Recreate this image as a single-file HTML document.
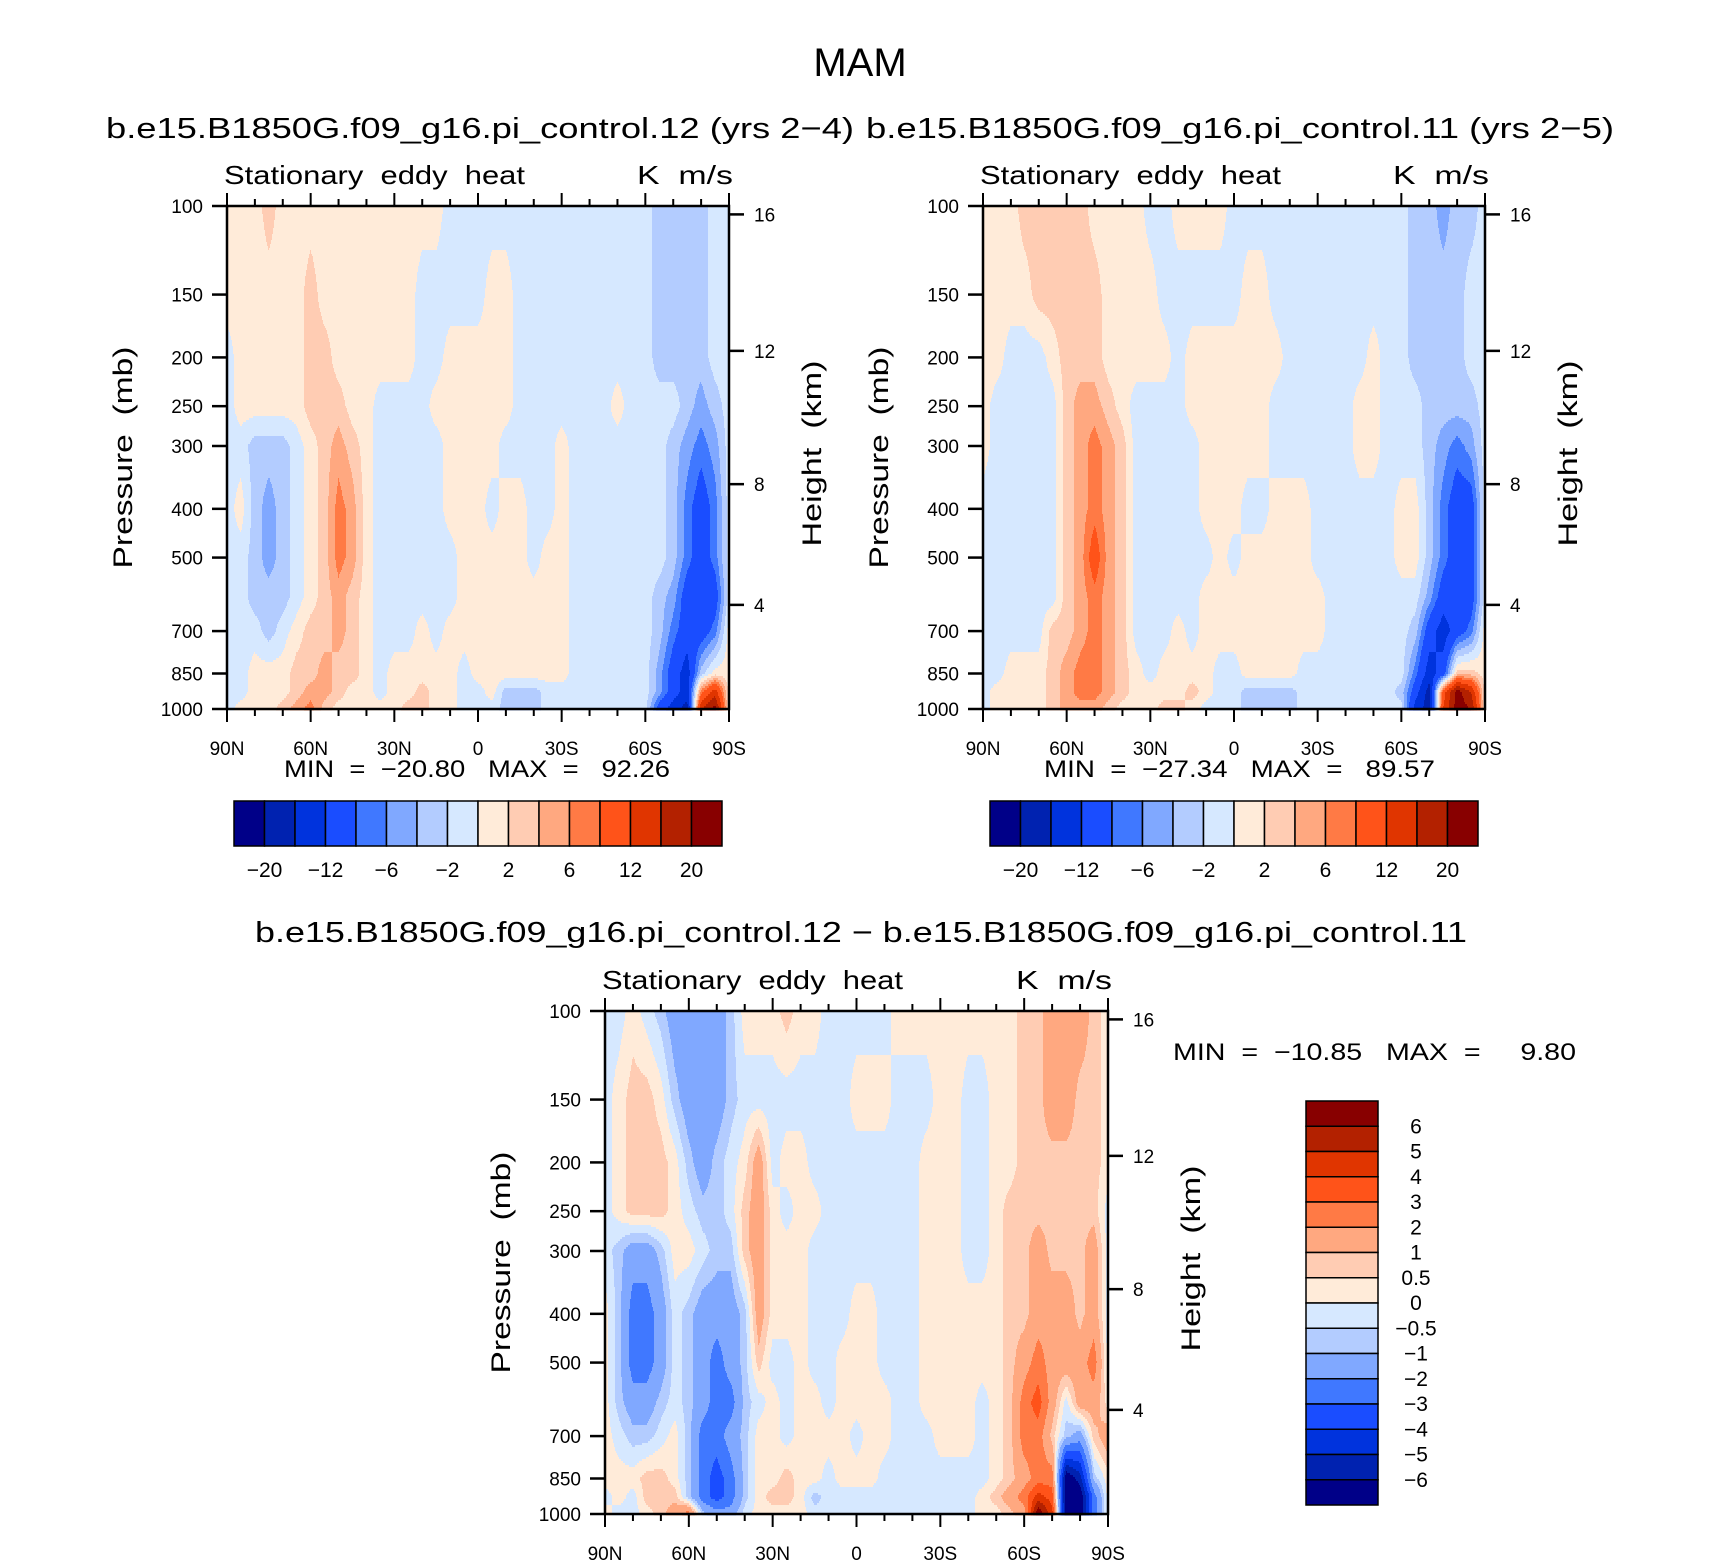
<!DOCTYPE html>
<html><head><meta charset="utf-8"><style>
html,body{margin:0;padding:0;background:#fff;}
svg{display:block;font-family:"Liberation Sans",sans-serif;}
text{white-space:pre;}
</style></head><body>
<svg id="fig" xmlns="http://www.w3.org/2000/svg" width="1710" height="1561" viewBox="0 0 1710 1561">
<rect x="0" y="0" width="1710" height="1561" fill="#fff"/>
<text x="860" y="76" font-size="40" text-anchor="middle">MAM</text>
<text x="106" y="138" font-size="29" textLength="748" lengthAdjust="spacingAndGlyphs">b.e15.B1850G.f09_g16.pi_control.12 (yrs 2−4)</text>
<text x="866" y="138" font-size="29" textLength="748" lengthAdjust="spacingAndGlyphs">b.e15.B1850G.f09_g16.pi_control.11 (yrs 2−5)</text>
<text x="255" y="942" font-size="29" textLength="1212" lengthAdjust="spacingAndGlyphs">b.e15.B1850G.f09_g16.pi_control.12 − b.e15.B1850G.f09_g16.pi_control.11</text>
</svg>
<script>
const pressureLevels=[100,150,200,250,300,400,500,600,700,850,925,1000];
const latLabels=["90N","60N","30N","0","30S","60S","90S"];
const pressureTicks=[100,150,200,250,300,400,500,700,850,1000];
const heightTicks=["16","12","8","4"];
const heightFrac=[0.0167,0.288,0.553,0.793];
const levelsAB=[-20,-16,-12,-8,-6,-4,-2,0,2,4,6,8,12,16,20];
const labelsAB=["−20","−12","−6","−2","2","6","12","20"];
const levelsC=[-6,-5,-4,-3,-2,-1,-0.5,0,0.5,1,2,3,4,5,6];
const labelsC=["6","5","4","3","2","1","0.5","0","−0.5","−1","−2","−3","−4","−5","−6"];
const colors=["#000088","#0022b0","#0033dd","#1a4dff","#4078ff","#80a8ff","#b3ccff","#d6e8ff","#ffebd9","#ffccb3","#ffa880","#ff7a45","#ff5319","#e03500","#b32100","#880000"];
const panelA=[
[1,1,1,3,1,1,1,1,1,1,1,1,1,1,1,1,-1,-1,-1,-1,-1,-1,-1,-1,-1,-1,-1,-1,-1,-1,-1,-3,-3,-3,-3,-1,-1],
[1,1,1,1,1,1,3,1,1,1,1,1,1,1,-1,-1,-1,-1,-1,1,1,-1,-1,-1,-1,-1,-1,-1,-1,-1,-1,-3,-3,-3,-3,-1,-1],
[-1,1,1,1,1,1,3,3,1,1,1,1,1,1,-1,-1,1,1,1,1,1,-1,-1,-1,-1,-1,-1,-1,-1,-1,-1,-3,-3,-3,-3,-1,-1],
[-1,1,1,1,1,1,3,3,3,1,1,-1,-1,-1,-1,1,1,1,1,1,1,-1,-1,-1,-1,-1,-1,-1,1,-1,-1,-1,-1,-3,-5,-3,-1],
[-1,-1,-3,-3,-3,-1,1,3,5,3,1,-1,-1,-1,-1,-1,1,1,1,1,-1,-1,-1,-1,1,-1,-1,-1,-1,-1,-1,-1,-3,-5,-7,-5,-1],
[-1,1,-3,-5,-3,-1,1,3,7,5,1,-1,-1,-1,-1,-1,1,1,1,-1,1,1,-1,-1,1,-1,-1,-1,-1,-1,-1,-1,-3,-7,-10,-7,-1],
[-1,-1,-3,-5,-3,-1,1,3,7,5,1,-1,-1,-1,-1,-1,-1,1,1,1,1,1,-1,1,1,-1,-1,-1,-1,-1,-1,-1,-3,-7,-10,-7,-1],
[-1,-1,-3,-3,-3,-1,1,3,5,3,1,-1,-1,-1,-1,-1,-1,1,1,1,1,1,1,1,1,-1,-1,-1,-1,-1,-1,-3,-5,-10,-10,-10,-1],
[-1,-1,-1,-3,-1,1,3,3,5,3,1,-1,-1,-1,1,-1,1,1,1,1,1,1,1,1,1,-1,-1,-1,-1,-1,-1,-3,-7,-10,-10,-7,1],
[-1,-1,1,1,1,3,3,5,3,3,1,-1,1,1,1,1,1,-1,1,1,1,1,1,1,1,-1,-1,-1,-1,-1,-1,-5,-10,-14,-3,1,1],
[-1,-1,1,1,1,3,5,5,3,1,1,-1,1,1,3,1,1,-1,-1,1,-3,-3,-3,-1,-1,-1,-1,-1,-1,-1,-1,-5,-10,-14,7,14,1],
[-1,1,1,1,3,5,7,3,1,1,1,1,1,3,3,1,1,-1,-1,-1,-3,-3,-3,-1,-1,-1,-1,-1,-1,-1,-1,-10,-14,-18,16,22,1]
];
const panelB=[
[1,1,1,3,3,3,3,3,1,1,1,1,-1,-1,1,1,1,1,-1,-1,-1,-1,-1,-1,-1,-1,-1,-1,-1,-1,-1,-3,-3,-5,-3,-3,-1],
[1,1,1,1,3,3,3,3,3,1,1,1,1,-1,-1,-1,-1,-1,-1,1,1,-1,-1,-1,-1,-1,-1,-1,-1,-1,-1,-3,-3,-3,-3,-1,-1],
[1,1,-1,-1,-1,1,3,3,3,1,1,1,1,1,-1,1,1,1,1,1,1,1,-1,-1,-1,-1,-1,-1,1,-1,-1,-3,-3,-3,-3,-1,-1],
[1,-1,-1,-1,-1,-1,3,5,5,3,1,-1,-1,-1,-1,1,1,1,1,1,1,-1,-1,-1,-1,-1,-1,1,1,-1,-1,-1,-3,-3,-3,-3,-1],
[1,-1,-1,-1,-1,-1,3,5,7,5,3,-1,-1,-1,-1,-1,1,1,1,1,1,-1,-1,-1,-1,-1,-1,1,1,-1,-1,-1,-3,-5,-7,-5,-1],
[-1,-1,-1,-1,-1,-1,3,5,7,5,3,-1,-1,-1,-1,-1,1,1,1,-1,-1,1,1,1,-1,-1,-1,-1,-1,-1,1,1,-3,-7,-10,-10,-1],
[-1,-1,-1,-1,-1,-1,3,5,10,5,3,-1,-1,-1,-1,-1,-1,1,-1,1,1,1,1,1,-1,-1,-1,-1,-1,-1,1,1,-3,-7,-10,-10,-1],
[-1,-1,-1,-1,-1,-1,3,5,7,5,3,-1,-1,-1,-1,-1,1,1,1,1,1,1,1,1,1,-1,-1,-1,-1,-1,-1,-1,-5,-10,-10,-10,-1],
[-1,-1,-1,-1,-1,3,3,5,7,5,3,-1,-1,-1,1,-1,1,1,1,1,1,1,1,1,1,-1,-1,-1,-1,-1,-1,-3,-10,-14,-10,-7,1],
[-1,-1,1,1,1,3,5,7,7,5,3,1,-1,1,1,1,1,-1,-1,1,1,1,1,-1,-1,-1,-1,-1,-1,-1,-1,-7,-14,-10,3,3,1],
[-1,1,1,1,1,3,5,7,7,5,3,1,1,1,1,3,1,-1,-1,-3,-3,-3,-3,-1,-1,-1,-1,-1,-1,-1,-3,-10,-18,10,22,16,1],
[-1,1,1,1,1,3,5,5,5,3,1,1,1,3,3,1,-1,-1,-1,-3,-3,-3,-3,-1,-1,-1,-1,-1,-1,-1,-1,-14,-18,12,22,20,1]
];
const panelC=[
[-0.25,-0.25,0.25,-0.25,-0.75,-1.5,-1.5,-1.5,-1.5,-0.75,0.25,0.25,0.25,0.75,0.25,0.25,-0.25,-0.25,-0.25,-0.25,-0.25,0.25,0.25,0.25,0.25,0.25,0.25,0.25,0.25,0.25,0.75,0.75,1.5,1.5,1.5,0.75,0.25],
[-0.25,0.25,0.75,0.75,0.25,-0.75,-1.5,-1.5,-1.5,-0.75,-0.25,-0.25,-0.25,-0.25,-0.25,-0.25,-0.25,-0.25,0.25,0.25,0.25,-0.25,-0.25,-0.25,0.25,0.25,-0.25,-0.25,0.25,0.25,0.75,0.75,1.5,1.5,0.75,0.75,0.25],
[-0.25,0.25,0.75,0.75,0.75,0.25,-0.75,-1.5,-0.75,-0.25,0.25,1.5,-0.25,0.25,0.25,-0.25,-0.25,-0.25,-0.25,-0.25,-0.25,-0.25,-0.25,0.25,0.25,0.25,-0.25,-0.25,0.25,0.25,0.75,0.75,0.75,0.75,0.75,0.75,0.25],
[-0.25,0.25,0.75,0.75,0.75,0.25,-0.25,-0.75,-0.75,-0.25,0.75,1.5,0.25,-0.25,0.25,0.25,-0.25,-0.25,-0.25,-0.25,-0.25,-0.25,-0.25,0.25,0.25,0.25,-0.25,-0.25,0.25,0.75,0.75,0.75,0.75,0.75,0.75,0.75,-0.25],
[-0.25,-0.75,-1.5,-1.5,-0.75,0.25,0.25,-0.25,-0.75,-0.75,0.75,1.5,0.25,0.25,0.25,-0.25,-0.25,-0.25,-0.25,-0.25,-0.25,-0.25,-0.25,0.25,0.25,0.25,-0.25,-0.25,0.25,0.75,0.75,1.5,0.75,0.75,0.75,1.5,-0.25],
[0.25,-0.75,-2.5,-2.5,-1.5,-0.25,-0.75,-1.5,-1.5,-1.5,-0.75,1.5,0.25,0.25,0.25,-0.25,-0.25,-0.25,0.25,0.25,-0.25,-0.25,-0.25,0.25,0.25,0.25,0.25,0.25,0.25,0.75,0.75,1.5,1.5,1.5,0.75,1.5,-0.25],
[0.25,-0.75,-2.5,-2.5,-1.5,-0.25,-0.75,-1.5,-2.5,-1.5,-0.75,0.75,-0.25,-0.25,0.25,-0.25,-0.25,0.25,0.25,0.25,-0.25,-0.25,-0.25,0.25,0.25,0.25,0.25,0.25,0.25,0.75,1.5,2.5,1.5,1.5,1.5,2.5,-0.25],
[0.25,-0.75,-1.5,-1.5,-0.75,-0.25,-0.75,-1.5,-2.5,-2.5,-0.75,-0.25,0.25,-0.25,0.25,0.25,-0.25,0.25,0.25,0.25,0.25,-0.25,-0.25,0.25,0.25,0.25,0.25,-0.25,0.25,0.75,2.5,3.5,1.5,-0.25,1.5,1.5,0.25],
[0.25,-0.25,-0.75,-0.75,-0.25,0.25,-0.75,-2.5,-2.5,-1.5,-0.75,0.25,0.25,-0.25,0.25,0.25,0.25,0.25,-0.25,0.25,0.25,-0.25,-0.25,-0.25,0.25,0.25,0.25,-0.25,0.25,0.75,2.5,2.5,0.75,-0.75,-1.5,0.75,1.5],
[0.25,0.25,0.25,0.75,0.75,0.25,-0.75,-2.5,-3.5,-2.5,-0.75,0.25,0.25,0.75,0.25,0.25,-0.25,0.25,0.25,0.25,-0.25,-0.25,-0.25,-0.25,-0.25,-0.25,-0.25,-0.25,0.25,0.75,1.5,2.5,2.5,-7,-5.5,-0.75,0.25],
[-0.25,0.25,-0.25,0.75,0.75,0.75,-0.75,-2.5,-3.5,-2.5,-0.75,0.25,0.75,0.75,0.25,-0.75,-0.25,-0.25,-0.25,-0.25,-0.25,-0.25,-0.25,-0.25,-0.25,-0.25,-0.25,0.25,0.75,1.5,2.5,4.5,3.5,-7,-7,-2.5,0.25],
[0.25,-0.25,-0.25,0.25,0.75,1.5,2.5,-0.75,-1.5,-1.5,-0.25,0.25,0.25,0.25,0.25,-0.25,-0.25,-0.25,-0.25,-0.25,-0.25,-0.25,-0.25,-0.25,-0.25,-0.25,-0.25,0.25,0.25,0.75,1.5,7,4.5,-7,-7,-2.5,0.25]
];
const minMaxA="MIN  =  −20.80   MAX  =   92.26";
const minMaxB="MIN  =  −27.34   MAX  =   89.57";
const minMaxC="MIN  =  −10.85   MAX  =     9.80";

const NS="http://www.w3.org/2000/svg";
const svg=document.getElementById('fig');
function mk(tag,attrs,parent,txt){const e=document.createElementNS(NS,tag);for(const k in attrs)e.setAttribute(k,attrs[k]);if(txt!==undefined)e.textContent=txt;(parent||svg).appendChild(e);return e;}
const lnP=pressureLevels.map(p=>Math.log(p));
function yOfP(p,top,H){return top+H*Math.log(p/100)/Math.log(10);}
function xOfLat(f,left,W){return left+f*W;}
function valueAt(vals,fx,p){
  const lp=Math.log(p);let k=0;
  while(k<lnP.length-2&&lp>lnP[k+1])k++;
  let t=(lp-lnP[k])/(lnP[k+1]-lnP[k]);t=Math.max(0,Math.min(1,t));
  const fi=fx*36;let i=Math.floor(fi);if(i>35)i=35;const s=fi-i;
  const a=vals[k][i]*(1-s)+vals[k][i+1]*s;
  const b=vals[k+1][i]*(1-s)+vals[k+1][i+1]*s;
  return a*(1-t)+b*t;
}
function binOf(v,levels){let b=0;while(b<levels.length&&v>levels[b])b++;return b;}

function drawPanel(id,left,top,W,H,vals,levels,mmText,mmX,mmY,mmW){
  const g=mk('g',{},svg);
  
  
  const cg=mk('g',{'shape-rendering':'crispEdges'},g);
  
  
  const step=2;
  for(let r=0;r<H;r+=step){
    const p=100*Math.pow(10,(r+step/2)/H);
    let runStart=0,runBin=-1;
    for(let c=0;c<=W;c++){
      let b=-2;
      if(c<W){b=binOf(valueAt(vals,(c+0.5)/W,p),levels);}
      if(b!==runBin){
        if(runBin>=0){
          const rc=mk('rect',{x:left+runStart,y:top+r,width:c-runStart,height:step+0.5,fill:colors[runBin]},cg);
          
          
        }
        runStart=c;runBin=b;
      }
    }
  }
  const fr=mk('rect',{x:left,y:top,width:W,height:H,fill:'none',stroke:'#000','stroke-width':2.5},g);
  
  
  for(let k=0;k<=18;k++){
    const x=xOfLat(k/18,left,W);const major=k%3===0;const L=major?13:7;
    const t1=mk('line',{x1:x,x2:x,y1:top,y2:top-L,stroke:'#000','stroke-width':2},g);
    
    
    const t2=mk('line',{x1:x,x2:x,y1:top+H,y2:top+H+L,stroke:'#000','stroke-width':2},g);
    
    
    if(major){
      const lb=mk('text',{x:x,y:top+H+46,'font-size':19,'text-anchor':'middle'},g,latLabels[k/3]);
      
      
    }
  }
  pressureTicks.forEach(p=>{
    const y=yOfP(p,top,H);
    const t=mk('line',{x1:left,x2:left-15,y1:y,y2:y,stroke:'#000','stroke-width':2.5},g);
    
    
    const lb=mk('text',{x:left-24,y:y+7,'font-size':19,'text-anchor':'end'},g,String(p));
    
    
  });
  heightTicks.forEach((h,i)=>{
    const y=top+heightFrac[i]*H;
    const t=mk('line',{x1:left+W,x2:left+W+15,y1:y,y2:y,stroke:'#000','stroke-width':2.5},g);
    
    
    const lb=mk('text',{x:left+W+25,y:y+7,'font-size':19},g,h);
    
    
  });
  const yl=mk('text',{x:0,y:0,'font-size':27,'text-anchor':'middle',textLength:222,lengthAdjust:'spacingAndGlyphs',transform:`translate(${left-95},${top+H/2}) rotate(-90)`},g,'Pressure  (mb)');
  
  
  const hl=mk('text',{x:0,y:0,'font-size':27,'text-anchor':'middle',textLength:186,lengthAdjust:'spacingAndGlyphs',transform:`translate(${left+W+92},${top+H/2-4}) rotate(-90)`},g,'Height  (km)');
  
  
  const st=mk('text',{x:left-3,y:top-22,'font-size':26,textLength:301,lengthAdjust:'spacingAndGlyphs'},g,'Stationary  eddy  heat');
  
  
  const un=mk('text',{x:left+W+4,y:top-22,'font-size':26,'text-anchor':'end',textLength:96,lengthAdjust:'spacingAndGlyphs'},g,'K  m/s');
  
  
  const mm=mk('text',{x:mmX,y:mmY,'font-size':24,textLength:mmW,lengthAdjust:'spacingAndGlyphs'},g,mmText);
  
  
}
function hColorbar(id,x0,y0,W,H,labels){
  const g=mk('g',{},svg);
  
  
  const n=colors.length,bw=W/n;
  colors.forEach((c,i)=>{
    const r=mk('rect',{x:x0+i*bw,y:y0,width:bw,height:H,fill:c,stroke:'#000','stroke-width':1.5},g);
    
    
  });
  labels.forEach((l,j)=>{
    const x=x0+(2*j+1)*bw;
    const t=mk('text',{x:x,y:y0+H+31,'font-size':21,'text-anchor':'middle'},g,l);
    
    
  });
}
function vColorbar(id,x0,y0,W,H,labels){
  const g=mk('g',{},svg);
  
  
  const n=colors.length,bh=H/n;
  colors.slice().reverse().forEach((c,i)=>{
    const r=mk('rect',{x:x0,y:y0+i*bh,width:W,height:bh,fill:c,stroke:'#000','stroke-width':1.5},g);
    
    
  });
  labels.forEach((l,j)=>{
    const y=y0+(j+1)*bh;
    const t=mk('text',{x:x0+W+38,y:y+7,'font-size':21,'text-anchor':'middle'},g,l);
    
    
  });
}
drawPanel('panel-a',227,206,502,503,panelA,levelsAB,minMaxA,284,777,386);
drawPanel('panel-b',983,206,502,503,panelB,levelsAB,minMaxB,1044,777,391);
drawPanel('panel-c',605,1011,503,503,panelC,levelsC,minMaxC,1173,1060,403);
hColorbar('colorbar-a',234,801,488,45,labelsAB);
hColorbar('colorbar-b',990,801,488,45,labelsAB);
vColorbar('colorbar-c',1306,1101,72,404,labelsC);
</script>
</body></html>
